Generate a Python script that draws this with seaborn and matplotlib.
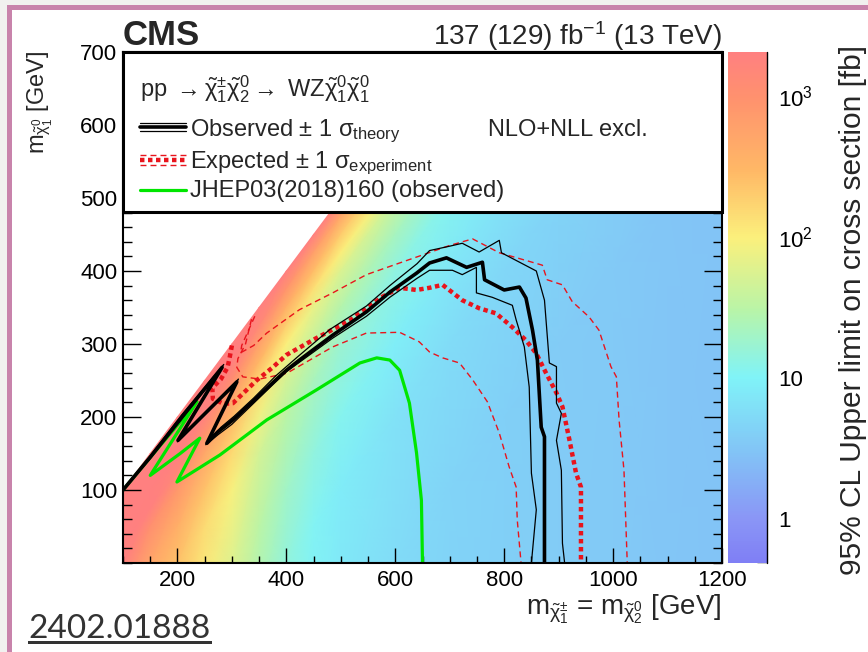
import numpy as np
import matplotlib
matplotlib.use("Agg")
import matplotlib.pyplot as plt
import seaborn as sns
from matplotlib.colors import LogNorm, LinearSegmentedColormap
from matplotlib.lines import Line2D
from matplotlib.patches import Rectangle
from matplotlib.ticker import MultipleLocator, LogLocator, NullFormatter

# upper limit map: value far from the diagonal vs mass, times a boost vs delta m
mass_nodes = [100, 150, 200, 250, 300, 350, 400, 450, 500, 600, 700, 800, 900, 1000, 1100, 1200]
limit_far = [250, 130, 100, 60, 38, 20, 12.5, 9.0, 7.0, 5.5, 4.6, 4.1, 3.8, 3.5, 3.2, 3.0]
dm_nodes = [0, 25, 50, 75, 100, 150, 200, 300, 400, 600, 1200]
dm_boost = [250, 70, 30, 15, 8, 4, 2.5, 1.6, 1.2, 1.0, 1.0]

# exclusion contours (GeV)
obs_x = [100, 150, 208, 282, 201, 309, 254, 275, 302, 338, 375, 400, 424, 485, 547, 590, 639, 663, 694, 731, 760, 764, 800, 828, 840, 852, 861, 868, 874, 874, 874]
obs_y = [100, 145, 200, 268, 168, 248, 164, 180, 196, 221, 247, 264, 278, 312, 344, 371, 397, 411, 418, 405, 412, 388, 374, 378, 363, 319, 278, 186, 173, 104, 0]
obs_up_x = [100, 150, 208, 285, 200, 312, 256, 280, 304, 340, 380, 420, 480, 547, 590, 640, 663, 700, 723, 754, 791, 795, 859, 874, 883, 896, 896, 905, 896, 905, 907, 911]
obs_up_y = [100, 147, 203, 272, 166, 252, 168, 186, 201, 226, 256, 282, 320, 352, 380, 410, 428, 434, 438, 426, 442, 425, 400, 360, 274, 269, 219, 205, 168, 127, 27, 0]
obs_dn_x = [100, 150, 208, 279, 202, 306, 252, 275, 300, 336, 372, 400, 485, 547, 590, 640, 663, 705, 723, 749, 749, 778, 815, 822, 837, 846, 850, 859, 850]
obs_dn_y = [100, 143, 197, 264, 170, 244, 162, 176, 190, 216, 242, 262, 308, 338, 364, 390, 401, 401, 395, 405, 370, 364, 353, 333, 296, 241, 123, 73, 0]
exp_x = [300, 296, 292, 280, 264, 265, 285, 302, 320, 345, 375, 400, 455, 516, 577, 608, 639, 663, 687, 723, 754, 785, 815, 840, 859, 877, 896, 907, 920, 932, 941, 941]
exp_y = [298, 282, 268, 252, 240, 225, 218, 219, 232, 250, 268, 285, 308, 332, 365, 377, 374, 377, 381, 360, 349, 342, 323, 305, 287, 260, 233, 214, 168, 123, 104, 0]
exp_up_x = [342, 330, 318, 316, 340, 364, 424, 485, 547, 608, 700, 742, 791, 870, 879, 907, 925, 956, 974, 996, 1006, 1011, 1020, 1026]
exp_up_y = [338, 318, 298, 288, 298, 315, 347, 370, 395, 411, 435, 444, 425, 408, 388, 381, 358, 337, 319, 269, 255, 196, 127, 0]
exp_dn_x = [336, 325, 311, 309, 320, 351, 401, 485, 547, 608, 644, 663, 687, 718, 742, 769, 791, 809, 822, 824, 831]
exp_dn_y = [334, 300, 280, 268, 255, 252, 260, 296, 315, 316, 303, 289, 281, 274, 251, 221, 178, 132, 104, 59, 0]
old_x = [100, 236, 150, 205, 241, 199, 278, 364, 455, 535, 566, 590, 608, 626, 639, 648, 650]
old_y = [100, 221, 120, 150, 171, 111, 148, 196, 237, 274, 281, 278, 264, 219, 151, 86, 0]

cbar_ticks = [1, 10, 100, 1000]
cbar_labels = ["1", "10", r"$10^{2}$", r"$10^{3}$"]

sns.set_theme(style="white")
plt.rcParams["font.family"] = ["Liberation Sans", "DejaVu Sans"]
plt.rcParams["mathtext.fontset"] = "custom"
plt.rcParams["mathtext.rm"] = "Liberation Sans"
plt.rcParams["mathtext.it"] = "Liberation Sans"
plt.rcParams["mathtext.bf"] = "Liberation Sans:bold"

W, H = 868, 652
def P(x, y):
    return (x / W, 1 - y / H)

fig = plt.figure(figsize=(W / 100, H / 100), dpi=100)
fig.patch.set_facecolor("white")
ax = fig.add_axes([123 / W, 1 - 563 / H, 599 / W, 511 / H])
cax = fig.add_axes([728 / W, 1 - 563 / H, 39 / W, 511 / H])

cmap = LinearSegmentedColormap.from_list("pastel_rainbow", [
    (0.0, "#7f7ff5"), (0.086, "#8a96f6"), (0.217, "#82c4f6"), (0.362, "#80f3f8"),
    (0.494, "#b8f4a8"), (0.638, "#fbf07c"), (0.769, "#ffb866"), (0.914, "#ff916e"),
    (1.0, "#ff8080")])
norm = LogNorm(vmin=0.49, vmax=2060)

X = np.tile(np.array(mass_nodes, float), (len(dm_nodes), 1))
Y = X - np.array(dm_nodes, float)[:, None]
C = np.outer(dm_boost, limit_far)
mesh = ax.pcolormesh(X, Y, C, shading="gouraud", cmap=cmap, norm=norm, zorder=0)

def draw(xs, ys, **kw):
    sns.lineplot(x=xs, y=ys, sort=False, estimator=None, ax=ax, legend=False, **kw)

red = "#e8141c"
draw(exp_up_x, exp_up_y, color=red, lw=1.0, linestyle=(0, (4.3, 2.9)))
draw(exp_dn_x, exp_dn_y, color=red, lw=1.0, linestyle=(0, (4.3, 2.9)))
draw(exp_x, exp_y, color=red, lw=3.2, linestyle=(0, (1.0, 0.8)), dash_capstyle="butt")
draw(old_x, old_y, color="#00e600", lw=2.3)
draw(obs_up_x, obs_up_y, color="black", lw=0.9)
draw(obs_dn_x, obs_dn_y, color="black", lw=0.9)
draw(obs_x, obs_y, color="black", lw=2.6)

ax.set_xlim(100, 1200)
ax.set_ylim(0, 700)
ax.set_xlabel("")
ax.set_ylabel("")
ax.xaxis.set_major_locator(MultipleLocator(200))
ax.xaxis.set_minor_locator(MultipleLocator(50))
ax.yaxis.set_minor_locator(MultipleLocator(20))
ax.set_yticks([100, 200, 300, 400, 500, 600, 700])
ax.tick_params(which="both", direction="in", top=True, right=True, bottom=True, left=True,
               colors="black", width=1.0, labelsize=16)
ax.tick_params(axis="x", which="major", length=10.8, pad=5)
ax.tick_params(axis="x", which="minor", length=5.4)
ax.tick_params(axis="y", which="major", length=13, pad=4)
ax.tick_params(axis="y", which="minor", length=6.5)
for s in ax.spines.values():
    s.set_color("black")
    s.set_linewidth(1.5)

cb = fig.colorbar(mesh, cax=cax)
cb.outline.set_visible(False)
cb.set_ticks(cbar_ticks)
cb.set_ticklabels(cbar_labels)
cax.yaxis.set_ticks_position("right")
cax.yaxis.set_minor_locator(LogLocator(base=10, subs=np.arange(2, 10)))
cax.yaxis.set_minor_formatter(NullFormatter())
cax.tick_params(which="both", direction="in", colors="black", width=1.0, labelsize=16, pad=8)
cax.tick_params(which="major", length=14)
cax.tick_params(which="minor", length=7)
cax.plot([1, 1], [0, 1], transform=cax.transAxes, color="black", lw=1.0, clip_on=False)

# legend box
fig.add_artist(Rectangle(P(123, 212), 599 / W, 160 / H, transform=fig.transFigure,
                         fc="white", ec="black", lw=2.2, zorder=5))
def sample(y, **kw):
    fig.add_artist(Line2D([140 / W, 186 / W], [1 - y / H] * 2, transform=fig.transFigure, zorder=6, **kw))
sample(123, color="black", lw=0.9)
sample(127, color="black", lw=2.6)
sample(131, color="black", lw=0.9)
sample(155, color=red, lw=1.0, linestyle=(0, (4.3, 2.9)))
sample(160, color=red, lw=3.2, linestyle=(0, (1.0, 0.8)), dash_capstyle="butt")
sample(165, color=red, lw=1.0, linestyle=(0, (4.3, 2.9)))
sample(190, color="#00e600", lw=2.3)

def T(x, y, s, **kw):
    kw.setdefault("fontsize", 17)
    kw.setdefault("va", "baseline")
    fig.text(*P(x, y), s, zorder=7, **kw)

T(140, 96, r"pp $\rightarrow\tilde{\chi}^{\pm}_{1}\tilde{\chi}^{0}_{2}\rightarrow$ WZ$\tilde{\chi}^{0}_{1}\tilde{\chi}^{0}_{1}$")
T(190, 136, r"Observed $\pm$ 1 $\sigma_{\rm theory}$")
T(488, 136, "NLO+NLL excl.")
T(190, 168, r"Expected $\pm$ 1 $\sigma_{\rm experiment}$")
T(190, 197, "JHEP03(2018)160 (observed)")

T(123, 45, "CMS", fontsize=25, fontweight="bold")
T(722, 45, r"137 (129) fb$^{-1}$ (13 TeV)", fontsize=20, ha="right")
T(722, 614, r"m$_{\tilde{\chi}^{\pm}_{1}}$ = m$_{\tilde{\chi}^{0}_{2}}$ [GeV]", fontsize=20, ha="right")
fig.text(*P(40, 50), r"m$_{\tilde{\chi}^{0}_{1}}$ [GeV]", rotation=90, fontsize=17, ha="center", va="top")
fig.text(*P(853, 45), "95% CL Upper limit on cross section [fb]", rotation=90, fontsize=21.5,
         ha="center", va="top")

# page decoration
fig.add_artist(Rectangle((0, 0), 7 / W, 1, transform=fig.transFigure, fc="#f1f1ef", ec="none", zorder=0))
fig.add_artist(Rectangle((7 / W, 0), 4.5 / W, 1 - 5 / H, transform=fig.transFigure, fc="#c883ab", ec="none", zorder=1))
fig.add_artist(Rectangle((0, 1 - 5 / H), 1, 5 / H, transform=fig.transFigure, fc="#f1f1ef", ec="none", zorder=0))
fig.add_artist(Rectangle((7 / W, 1 - 9.5 / H), 1, 4.5 / H, transform=fig.transFigure, fc="#c883ab", ec="none", zorder=1))
fig.text(*P(28, 638), "2402.01888", fontsize=24, color="#333333", family=["Lato", "DejaVu Sans"],
         va="baseline")
fig.add_artist(Rectangle(P(28, 644), 184 / W, 3 / H, transform=fig.transFigure, fc="#333333", ec="none"))

fig.savefig("out.png", dpi=100)
